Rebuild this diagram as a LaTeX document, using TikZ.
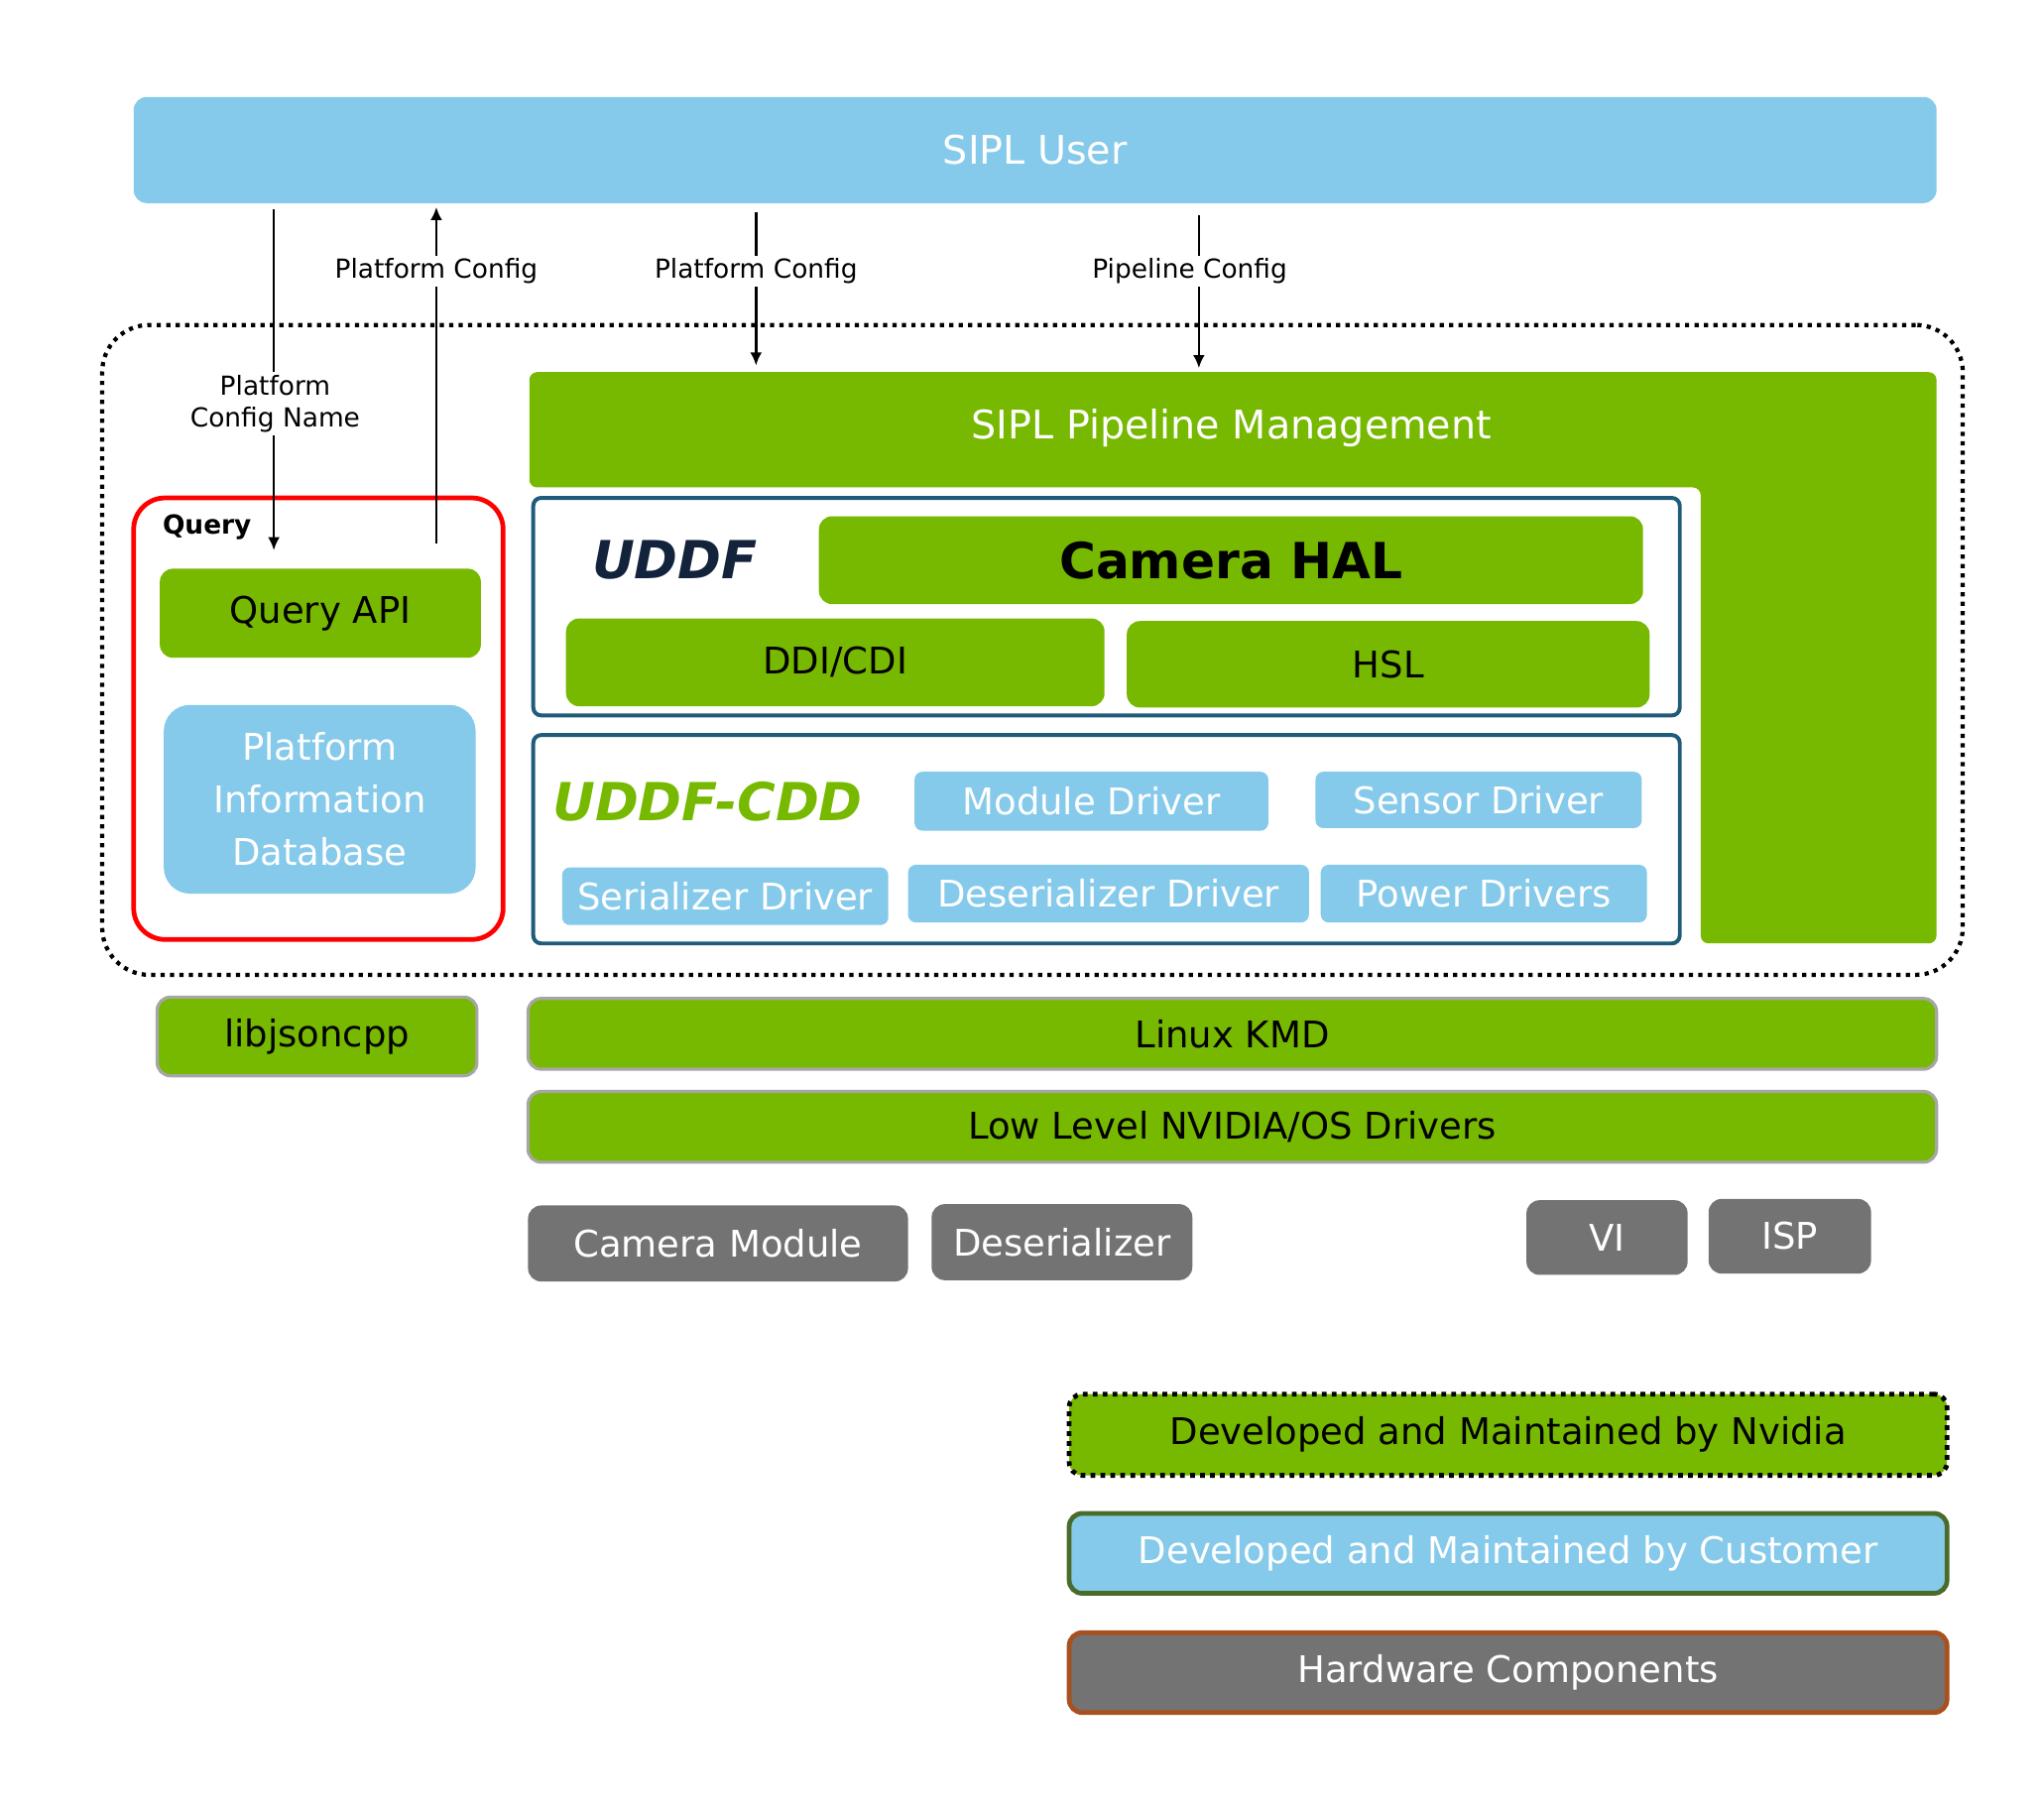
\documentclass[tikz,border=0pt]{standalone}
\usepackage{fontspec}
\setmainfont{DejaVu Sans}
\usetikzlibrary{arrows.meta}
\definecolor{nvg}{HTML}{76B900}
\definecolor{lb}{HTML}{85CAEA}
\definecolor{hw}{HTML}{737373}
\definecolor{teal}{HTML}{1F5C7A}
\definecolor{navy}{HTML}{14233C}
\definecolor{olive}{HTML}{4A6B2A}
\definecolor{brn}{HTML}{A8501E}
\newcommand\bx[7]{\node[#6, minimum width={(#4-#2)*0.5pt}, minimum height={(#5-#3)*0.5pt}] (#1) at ({(#2+#4)/2},{(#3+#5)/2}) {#7};}
\tikzset{
 base/.style={inner sep=0pt, rounded corners=5pt, align=center, font=\fontsize{14}{16}\selectfont},
 gbox/.style={base, fill=nvg, text=black},
 gboxb/.style={gbox, draw=gray!70, line width=1.2pt},
 cbox/.style={base, fill=lb, text=white},
 hbox/.style={base, fill=hw, text=white},
 frame/.style={draw=teal, line width=1.5pt, rounded corners=3pt},
 lbl/.style={font=\fontsize{10}{12}\selectfont, align=center, inner sep=1pt},
 arr/.style={line width=0.9pt, -{Latex[length=5pt,width=4.5pt]}},
 ln/.style={line width=0.9pt}
}
\begin{document}
\begin{tikzpicture}[x=0.5pt,y=-0.5pt]
\useasboundingbox (0,0) rectangle (1560,1380);
\bx{user}{102}{74}{1478}{155}{cbox, font=\fontsize{15}{17}\selectfont}{SIPL User}
\node[draw, line width=1.6pt, dotted, rounded corners=18pt, minimum width={1420*0.5pt}, minimum height={496*0.5pt}] (outer) at (788,496) {};
% pipeline L shape
\fill[nvg, rounded corners=3pt] (404,284) -- (1478,284) -- (1478,720) -- (1298,720) -- (1298,372) -- (404,372) -- cycle;
\node[text=white, font=\fontsize{15}{17}\selectfont] (pipe) at (940,327) {SIPL Pipeline Management};
% UDDF
\node[frame, minimum width={875*0.5pt}, minimum height={166*0.5pt}] (uddf) at (844.5,463) {};
\node[font=\bfseries\itshape\fontsize{20}{22}\selectfont, text=navy] (uddft) at (515,427) {UDDF};
\bx{hal}{625}{394}{1254}{461}{gbox, font=\bfseries\fontsize{19}{21}\selectfont}{Camera HAL}
\bx{ddi}{432}{472}{843}{539}{gbox}{DDI/CDI}
\bx{hsl}{860}{474}{1259}{540}{gbox}{HSL}
% UDDF-CDD
\node[frame, minimum width={875*0.5pt}, minimum height={159*0.5pt}] (cdd) at (844.5,640.5) {};
\node[font=\bfseries\itshape\fontsize{20}{22}\selectfont, text=nvg] (cddt) at (540,612) {UDDF-CDD};
\bx{mod}{698}{589}{968}{634}{cbox, rounded corners=3pt}{Module Driver}
\bx{sen}{1004}{589}{1253}{632}{cbox, rounded corners=3pt}{Sensor Driver}
\bx{ser}{429}{662}{678}{706}{cbox, rounded corners=3pt}{Serializer Driver}
\bx{des}{693}{660}{999}{704}{cbox, rounded corners=3pt}{Deserializer Driver}
\bx{pow}{1008}{660}{1257}{704}{cbox, rounded corners=3pt}{Power Drivers}
% Query
\node[draw=red, line width=1.8pt, rounded corners=12pt, minimum width={282*0.5pt}, minimum height={337*0.5pt}] (query) at (243,548.5) {};
\node[font=\bfseries\fontsize{10}{12}\selectfont] (qt) at (158,402) {Query};
\bx{qapi}{122}{434}{367}{502}{gbox}{Query API}
\bx{pid}{125}{538}{363}{682}{cbox, rounded corners=10pt, font=\fontsize{14}{20}\selectfont}{Platform\\Information\\Database}
% lower layers
\bx{json}{120}{761}{364}{821}{gboxb}{libjsoncpp}
\bx{kmd}{403}{762}{1478}{816}{gboxb}{Linux KMD}
\bx{low}{403}{833}{1478}{887}{gboxb}{Low Level NVIDIA/OS Drivers}
\bx{cam}{403}{920}{693}{978}{hbox}{Camera Module}
\bx{dser}{711}{919}{910}{977}{hbox}{Deserializer}
\bx{vi}{1165}{916}{1288}{973}{hbox}{VI}
\bx{isp}{1304}{915}{1428}{972}{hbox}{ISP}
% legend
\bx{lg1}{816}{1064}{1486}{1126}{gbox, draw=black, dotted, line width=1.8pt}{Developed and Maintained by Nvidia}
\bx{lg2}{816}{1155}{1486}{1216}{cbox, draw=olive, line width=1.8pt}{Developed and Maintained by Customer}
\bx{lg3}{816}{1246}{1486}{1307}{hbox, draw=brn, line width=1.8pt}{Hardware Components}
% arrows
\node[lbl] (l1) at (210,308) {Platform\\Config Name};
\draw[ln] (209,160) -- (l1.north -| 209,0);
\draw[arr] (l1.south -| 209,0) -- (209,420);
\node[lbl] (l2) at (333,207) {Platform Config};
\coordinate (a2s) at (333,415);
\draw[ln] (a2s) -- (l2.south -| a2s);
\draw[arr] (l2.north -| a2s) -- (333,158);
\node[lbl] (l3) at (577,207) {Platform Config};
\draw[ln] (577,162) -- (l3.north -| 577,0);
\draw[arr] (l3.south -| 577,0) -- (577,279);
\node[lbl] (l4) at (908,207) {Pipeline Config};
\draw[ln] (915,164) -- (l4.north -| 915,0);
\draw[arr] (l4.south -| 915,0) -- (915,281);
\end{tikzpicture}
\end{document}
